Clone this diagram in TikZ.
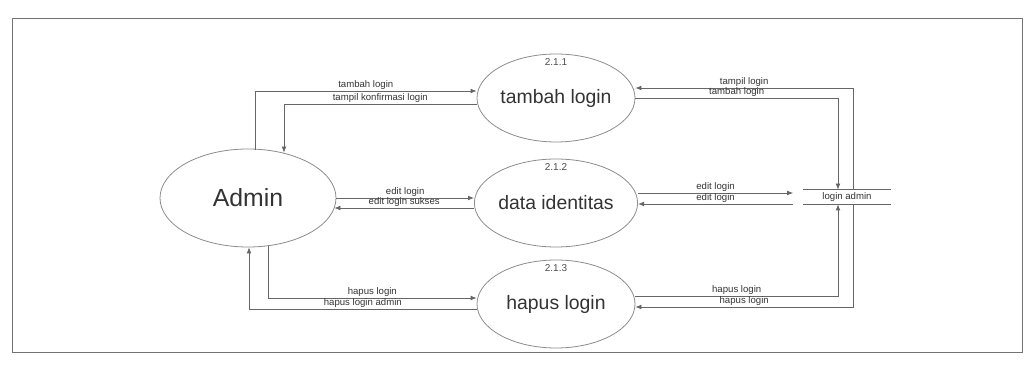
\documentclass[tikz,border=0pt]{standalone}
\usepackage{fontspec}
\setmainfont{Liberation Sans}
\usetikzlibrary{shapes.geometric,arrows.meta,calc}

\begin{document}
\begin{tikzpicture}
    [
        x=0.5pt,y=-0.5pt,
        proses/.style={ellipse,draw=black!45,line width=0.4pt,inner sep=0pt,text=black!80,
            minimum width=79pt,minimum height=44pt,font=\fontsize{9.7}{11}\selectfont},
        aliran/.style={draw=black!60,line width=0.4pt,-{Latex[length=3pt,width=2.4pt]}},
        ket/.style={font=\fontsize{4.8}{5}\selectfont,text=black!80,inner sep=0.4pt},
        nomor/.style={font=\fontsize{5}{6}\selectfont,text=black!70,inner sep=0pt},
    ]
    \useasboundingbox (0,0) rectangle (1033,379);
    % The frame
    \draw[black!55,line width=0.5pt] (12,19) rectangle (1022,352);
    % Entity, processes and data store
    \node[proses,minimum width=88pt,minimum height=49pt,font=\fontsize{12.4}{14}\selectfont]
        (admin) at (248,198) {Admin};
    \node[proses] (tambah) at (556,98) {tambah login};
    \node[proses] (dataid) at (556,203) {data identitas};
    \node[proses] (hapus) at (556,304) {hapus login};
    \node[nomor] (n1) at ($(tambah.north)+(0,8)$) {2.1.1};
    \node[nomor] (n2) at ($(dataid.north)+(0,8)$) {2.1.2};
    \node[nomor] (n3) at ($(hapus.north)+(0,8)$) {2.1.3};
    \node[ket,minimum width=43.5pt,minimum height=7pt] (store) at (847,197) {login admin};
    \draw[black!60,line width=0.4pt]
        (store.north west) -- (store.north east)
        (store.south west) -- (store.south east);
    % Flows on the left
    \draw[aliran] ($(admin.north)+(7,1)$) |- node[ket,above,pos=0.75]{tambah login}
        (tambah.west |- 0,91);
    \draw[aliran] (tambah.west |- 0,104) -| node[ket,above,pos=0.25]{tampil konfirmasi login}
        ($(admin.north)+(36,4)$);
    \draw[aliran] (admin.east) -- node[ket,above]{edit login} (dataid.west |- admin.east);
    \draw[aliran] (dataid.west |- 0,208) -- node[ket,above]{edit login sukses}
        ($(admin.east |- 0,208)+(-2,0)$);
    \draw[aliran] ($(admin.south)+(20,-1)$) |- node[ket,above,pos=0.75]{hapus login}
        (hapus.west |- 0,298);
    \draw[aliran] (hapus.west |- 0,309) -| node[ket,above,pos=0.25]{hapus login admin}
        ($(admin.south)+(1,0)$);
    % Flows on the right
    \draw[aliran] (store.north -| 853,0) |- node[ket,above,pos=0.75]{tampil login}
        (tambah.east |- 0,88);
    \draw[aliran] (tambah.east |- 0,98) -| node[ket,above,pos=0.25]{tambah login}
        (store.north -| 838,0);
    \draw[aliran] (dataid.east |- 0,193) -- node[ket,above]{edit login}
        ($(store.west |- 0,193)+(-10,0)$);
    \draw[aliran] ($(store.west |- 0,204)+(-10,0)$) -- node[ket,above]{edit login}
        (dataid.east |- 0,204);
    \draw[aliran] (hapus.east |- 0,296) -| node[ket,above,pos=0.25]{hapus login}
        (store.south -| 838,0);
    \draw[aliran] (store.south -| 853,0) |- node[ket,above,pos=0.75]{hapus login}
        (hapus.east |- 0,307);
\end{tikzpicture}
\end{document}
